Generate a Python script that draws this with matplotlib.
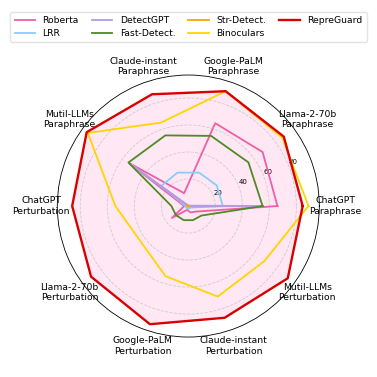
import numpy as np
import matplotlib
matplotlib.use("Agg")
import matplotlib.pyplot as plt

# 軸ラベル (反時計回り, 0度から)
categories = ["ChatGPT\nParaphrase", "Llama-2-70b\nParaphrase", "Google-PaLM\nParaphrase",
              "Claude-instant\nParaphrase", "Mutil-LLMs\nParaphrase", "ChatGPT\nPerturbation",
              "Llama-2-70b\nPerturbation", "Google-PaLM\nPerturbation", "Claude-instant\nPerturbation",
              "Mutil-LLMs\nPerturbation"]

roberta = [66, 68, 64.5, 10, 54, 3, 15, 3, 5, 7]
lrr = [25.5, 26, 26, 26, 25, 2, 2, 2, 2, 2]
detectgpt = [54.5, 0.5, 0.5, 0.5, 54, 0.5, 0.5, 0.5, 0.5, 0.5]
fast_detect = [55, 55, 54.6, 55, 54.8, 12.5, 11.4, 11, 11, 12]
str_detect = [0.5, 0.5, 0.5, 0.5, 0.5, 0.5, 0.5, 0.5, 0.5, 0.5]
binoculars = [89, 86, 89.4, 65, 92, 54, 44, 54.6, 70.5, 69.5]
repreguard = [84.7, 87.4, 89.4, 87, 93, 86, 89, 92, 87, 91]

names = ["Roberta", "LRR", "DetectGPT", "Fast-Detect.", "Str-Detect.", "Binoculars", "RepreGuard"]
series = [roberta, lrr, detectgpt, fast_detect, str_detect, binoculars, repreguard]
colors = ["#ee5fa7", "#87cefa", "#b59be0", "#4f8a25", "#ffa500", "#ffd500", "#d80000"]

angles = np.linspace(0, 2 * np.pi, len(categories), endpoint=False)
ang_closed = np.concatenate([angles, angles[:1]])

fig = plt.figure(figsize=(3.77, 3.77), dpi=100)
ax = fig.add_axes([0.152, 0.106, 0.695, 0.695], polar=True)

for name, vals, c in zip(names, series, colors):
    v = np.concatenate([vals, vals[:1]])
    lw = 1.7 if name == "RepreGuard" else 1.3
    ax.plot(ang_closed, v, color=c, linewidth=lw, label=name)

# RepreGuardの内側を塗りつぶし
rv = np.concatenate([repreguard, repreguard[:1]])
ax.fill(ang_closed, rv, color="#ff69b4", alpha=0.15, linewidth=0)

ax.set_ylim(0, 97)
ax.set_yticks([20, 40, 60, 80])
ax.set_yticklabels(["20", "40", "60", "80"], fontsize=5)
ax.set_rlabel_position(22.5)
ax.set_xticks(angles)
ax.set_xticklabels(categories, fontsize=6.7)
ax.tick_params(axis="x", pad=1)
ax.xaxis.grid(False)
ax.yaxis.grid(True, linestyle="--", color="#cccccc", linewidth=0.6)
ax.spines["polar"].set_linewidth(0.6)
ax.set_facecolor("white")

fig.legend(loc="upper center", bbox_to_anchor=(0.5, 0.98), ncol=4, fontsize=6.7,
           frameon=True, edgecolor="#dddddd", handlelength=2.2, columnspacing=1.4,
           handletextpad=0.8, labelspacing=0.4, borderpad=0.45)

plt.savefig("out.png", dpi=100)
